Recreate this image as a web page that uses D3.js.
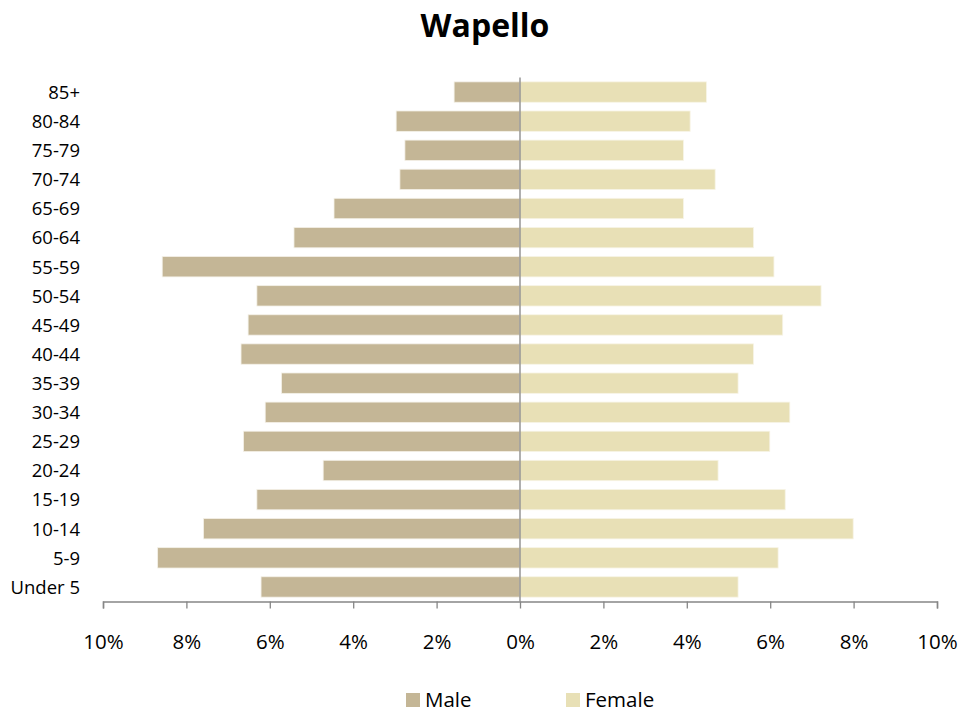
<!DOCTYPE html>
<html>
<head>
<meta charset="utf-8">
<script src="https://cdn.jsdelivr.net/npm/d3@7"></script>
<style>
  body { margin: 0; background: #fff; }
  text { font-family: "Open Sans", sans-serif; }
</style>
</head>
<body>
<div id="container"></div>
<script>
// Data (percent of population)
const ageGroups = ["85+", "80-84", "75-79", "70-74", "65-69", "60-64", "55-59", "50-54", "45-49",
  "40-44", "35-39", "30-34", "25-29", "20-24", "15-19", "10-14", "5-9", "Under 5"];
const male = [1.58, 2.97, 2.76, 2.88, 4.46, 5.42, 8.58, 6.31, 6.52,
  6.69, 5.72, 6.11, 6.63, 4.72, 6.31, 7.59, 8.69, 6.21];
const female = [4.47, 4.08, 3.92, 4.68, 3.92, 5.60, 6.09, 7.22, 6.30,
  5.60, 5.23, 6.47, 5.99, 4.75, 6.36, 7.99, 6.19, 5.23];
const tickValues = [-10, -8, -6, -4, -2, 0, 2, 4, 6, 8, 10];
const seriesNames = ["Male", "Female"];

// Chart dimensions
const width = 979;
const height = 713;
const marginTop = 77.5;
const marginBottom = 111.5;
const marginLeft = 103;
const marginRight = 42;

const maleColour = "#c4b696";
const femaleColour = "#e8e0b6";
const axisColour = "#868686";

const x = d3.scaleLinear()
  .domain([-10, 10])
  .range([marginLeft, width - marginRight]);

const y = d3.scaleBand()
  .domain(ageGroups)
  .range([marginTop, height - marginBottom])
  .paddingInner(0.3)
  .paddingOuter(0.15);

const svg = d3.create("svg").attr("width", width).attr("height", height);
document.getElementById("container").appendChild(svg.node());

// Title
svg.append("text")
  .attr("x", 485)
  .attr("y", 37)
  .attr("text-anchor", "middle")
  .attr("font-size", "32px")
  .attr("font-weight", "bold")
  .text("Wapello");

// Male bars
svg.append("g")
  .selectAll("rect")
  .data(ageGroups)
  .join("rect")
  .attr("x", (d, i) => x(-male[i]))
  .attr("y", d => y(d))
  .attr("width", (d, i) => x(0) - x(-male[i]))
  .attr("height", y.bandwidth())
  .attr("fill", maleColour)
  .attr("stroke", "#f4f1e8")
  .attr("stroke-width", 0.8);

// Female bars
svg.append("g")
  .selectAll("rect")
  .data(ageGroups)
  .join("rect")
  .attr("x", x(0))
  .attr("y", d => y(d))
  .attr("width", (d, i) => x(female[i]) - x(0))
  .attr("height", y.bandwidth())
  .attr("fill", femaleColour)
  .attr("stroke", "#f7f4e6")
  .attr("stroke-width", 0.8);

// Category labels
svg.append("g")
  .selectAll("text")
  .data(ageGroups)
  .join("text")
  .attr("x", 80)
  .attr("y", d => y(d) + y.bandwidth() / 2)
  .attr("dy", "0.37em")
  .attr("text-anchor", "end")
  .attr("font-size", "18.5px")
  .attr("fill", "#000")
  .text(d => d);

// Centre line
svg.append("line")
  .attr("x1", x(0)).attr("x2", x(0))
  .attr("y1", marginTop).attr("y2", height - marginBottom)
  .attr("stroke", axisColour)
  .attr("stroke-width", 1.3);

// Bottom axis
const xAxis = svg.append("g")
  .attr("transform", `translate(0,${height - marginBottom})`)
  .call(d3.axisBottom(x)
    .tickValues(tickValues)
    .tickSize(7)
    .tickPadding(26)
    .tickFormat(d => Math.abs(d) + "%"));
xAxis.select(".domain").attr("stroke", axisColour).attr("stroke-width", 1.5);
xAxis.selectAll(".tick line").attr("stroke", axisColour).attr("stroke-width", 1.3);
xAxis.selectAll(".tick text")
  .attr("font-family", "Open Sans, sans-serif")
  .attr("font-size", "20.5px")
  .attr("fill", "#000");

// Legend
const legend = svg.append("g")
  .selectAll("g")
  .data(seriesNames)
  .join("g")
  .attr("transform", (d, i) => `translate(${406 + i * 160},693)`);
legend.append("rect")
  .attr("width", 14)
  .attr("height", 14)
  .attr("fill", (d, i) => i === 0 ? maleColour : femaleColour);
legend.append("text")
  .attr("x", 19)
  .attr("y", 14)
  .attr("font-size", "20.5px")
  .attr("fill", "#000")
  .text(d => d);
</script>
</body>
</html>
